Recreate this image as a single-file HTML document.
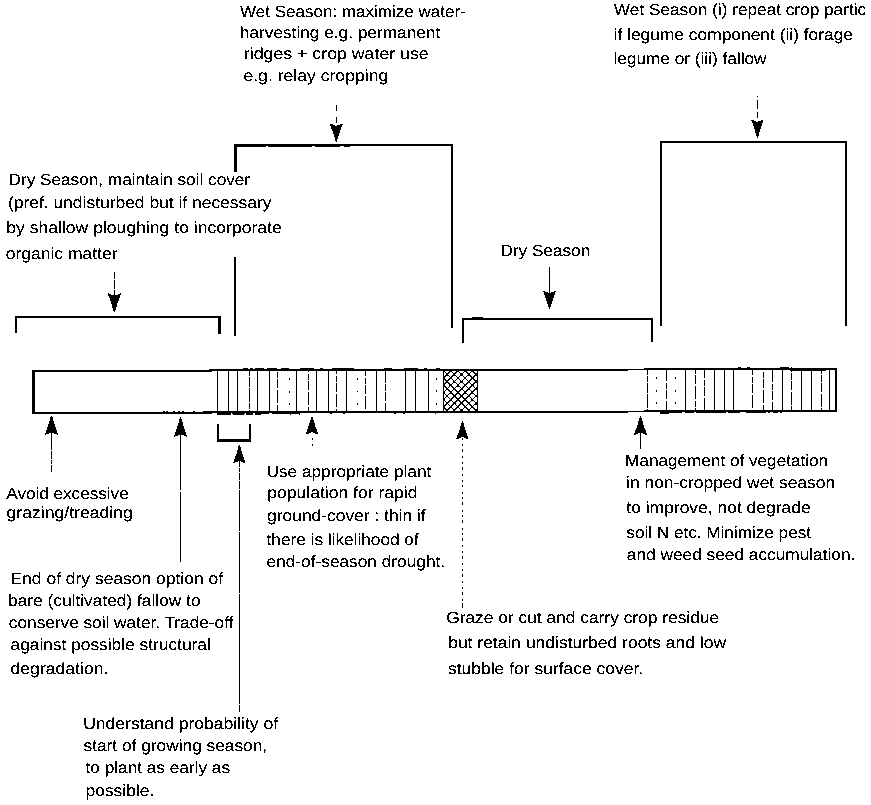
<!DOCTYPE html>
<html lang="en"><head><meta charset="utf-8"><title>Soil management calendar</title>
<style>
html,body{margin:0;padding:0;background:#fff;}
body{width:871px;height:805px;overflow:hidden;}
svg{display:block;}
text{font-family:"Liberation Sans",sans-serif;font-size:16.3px;fill:#000;text-rendering:geometricPrecision;}
.ln{stroke:#000;fill:none;stroke-linecap:butt;}
.hd{fill:#000;stroke:none;}
</style></head><body>
<svg width="871" height="805" viewBox="0 0 871 805">
<defs>
<pattern id="xh" width="5.1" height="5.1" patternUnits="userSpaceOnUse" patternTransform="translate(443.5 370) rotate(45)"><path d="M0 0.6H5.1M0.6 0V5.1" stroke="#000" stroke-width="0.95" fill="none"/></pattern>
<filter id="bw" x="0" y="0" width="871" height="805" filterUnits="userSpaceOnUse" color-interpolation-filters="sRGB"><feComponentTransfer><feFuncA type="discrete" tableValues="0 0 0 0 1 1 1 1 1 1"/></feComponentTransfer></filter>
</defs>
<rect x="0" y="0" width="871" height="805" fill="#fff"/>
<g filter="url(#bw)">
<path class="hd" d="M32.2 370.12L837.2 368.12L837.2 369.88L32.2 371.88Z"/>
<path class="hd" d="M32.2 412.12L837.2 410.12L837.2 411.88L32.2 413.88Z"/>
<path class="ln" d="M243.0 369.08L300.0 368.93" stroke-width="1.1" stroke-dasharray="5 2 3 1.5 10 2 11 3 9 20" stroke-dashoffset="0"/>
<path class="ln" d="M300.0 368.93L440.0 368.59" stroke-width="1.1" stroke-dasharray="14 6 3 9 22 30 8 12" stroke-dashoffset="0"/>
<path class="ln" d="M163.0 411.38L217.0 411.24" stroke-width="1.1" stroke-dasharray="1.5 2 1.5 5 2 3 1.5 3 1.5 9 2 8 8 30" stroke-dashoffset="0"/>
<path class="ln" d="M217.0 413.94L300.0 413.73" stroke-width="1.1" stroke-dasharray="17 1.5 12 1.5 7 2 14 3 30 12" stroke-dashoffset="3"/>
<path class="ln" d="M290.0 413.66L440.0 413.29" stroke-width="1.1" stroke-dasharray="1.5 7 1.5 30 2 11 1.5 50" stroke-dashoffset="0"/>
<path class="ln" d="M660.0 412.84L763.0 412.58" stroke-width="1.1" stroke-dasharray="22 3 9 2 30 2 12 6" stroke-dashoffset="0"/>
<path class="ln" d="M763.0 412.48L800.0 412.39" stroke-width="1.1" stroke-dasharray="3 2 2 3 5 2 2 30" stroke-dashoffset="0"/>
<path class="ln" d="M738.0 367.84L792.0 367.71" stroke-width="1.1" stroke-dasharray="3 6 3 30 9 2 11 2 30" stroke-dashoffset="0"/>
<path class="hd" d="M790.0 368.23L826.0 368.14L826.0 370.77L790.0 370.86Z"/>
<path class="ln" d="M33.4 371.0L33.4 413.5" stroke-width="2.5"/>
<path class="ln" d="M836.0 369.0L836.0 411.5" stroke-width="2.4"/>
<path class="ln" d="M217.5 370.5L217.5 412.0" stroke-width="1.0"/>
<path class="ln" d="M228.5 370.5L228.5 412.0" stroke-width="1.0"/>
<path class="ln" d="M237.5 370.5L237.5 412.0" stroke-width="1.0"/>
<path class="ln" d="M249.5 370.5L249.5 412.0" stroke-width="1.0" stroke-dasharray="13 1.5 6 1.5 9 2" stroke-dashoffset="15"/>
<path class="ln" d="M257.5 370.4L257.5 411.9" stroke-width="1.0"/>
<path class="ln" d="M269.5 370.4L269.5 411.9" stroke-width="1.0"/>
<path class="ln" d="M277.5 370.4L277.5 411.9" stroke-width="1.0" stroke-dasharray="13 1.5 6 1.5 9 2" stroke-dashoffset="13"/>
<path class="ln" d="M289.5 378.4L289.5 407.9" stroke-width="1.0" stroke-dasharray="1.6 11"/>
<path class="ln" d="M296.5 370.3L296.5 411.8" stroke-width="1.0"/>
<path class="ln" d="M308.5 370.3L308.5 411.8" stroke-width="1.0" stroke-dasharray="13 1.5 6 1.5 9 2" stroke-dashoffset="11"/>
<path class="ln" d="M316.5 370.3L316.5 411.8" stroke-width="1.0"/>
<path class="ln" d="M328.5 370.3L328.5 411.8" stroke-width="1.0"/>
<path class="ln" d="M336.5 370.2L336.5 411.7" stroke-width="1.0" stroke-dasharray="13 1.5 6 1.5 9 2" stroke-dashoffset="9"/>
<path class="ln" d="M346.5 370.2L346.5 411.7" stroke-width="1.0"/>
<path class="ln" d="M357.5 378.2L357.5 407.7" stroke-width="1.0" stroke-dasharray="1.6 11"/>
<path class="ln" d="M365.5 370.2L365.5 411.7" stroke-width="1.0" stroke-dasharray="13 1.5 6 1.5 9 2" stroke-dashoffset="7"/>
<path class="ln" d="M376.5 370.1L376.5 411.6" stroke-width="1.0"/>
<path class="ln" d="M385.5 370.1L385.5 411.6" stroke-width="1.0" stroke-dasharray="13 1.5 6 1.5 9 2" stroke-dashoffset="0"/>
<path class="ln" d="M405.5 370.1L405.5 411.6" stroke-width="1.0"/>
<path class="ln" d="M415.5 370.0L415.5 411.5" stroke-width="1.0"/>
<path class="ln" d="M428.5 370.0L428.5 411.5" stroke-width="1.0"/>
<path class="ln" d="M436.5 378.0L436.5 407.5" stroke-width="1.0" stroke-dasharray="1.6 11"/>
<path class="ln" d="M647.5 369.5L647.5 411.0" stroke-width="1.0" stroke-dasharray="13 1.5 6 1.5 9 2" stroke-dashoffset="8"/>
<path class="ln" d="M656.5 377.4L656.5 406.9" stroke-width="1.0" stroke-dasharray="1.6 11"/>
<path class="ln" d="M666.5 369.4L666.5 410.9" stroke-width="1.0" stroke-dasharray="13 1.5 6 1.5 9 2" stroke-dashoffset="1"/>
<path class="ln" d="M675.5 377.4L675.5 406.9" stroke-width="1.0" stroke-dasharray="1.6 11"/>
<path class="ln" d="M685.5 369.4L685.5 410.9" stroke-width="1.0"/>
<path class="ln" d="M695.5 369.3L695.5 410.8" stroke-width="1.0" stroke-dasharray="13 1.5 6 1.5 9 2" stroke-dashoffset="16"/>
<path class="ln" d="M704.5 369.3L704.5 410.8" stroke-width="1.0" stroke-dasharray="13 1.5 6 1.5 9 2" stroke-dashoffset="4"/>
<path class="ln" d="M714.5 369.3L714.5 410.8" stroke-width="1.0"/>
<path class="ln" d="M724.5 369.3L724.5 410.8" stroke-width="1.0"/>
<path class="ln" d="M733.5 369.3L733.5 410.8" stroke-width="1.0"/>
<path class="ln" d="M752.5 369.2L752.5 410.7" stroke-width="1.0" stroke-dasharray="13 1.5 6 1.5 9 2" stroke-dashoffset="7"/>
<path class="ln" d="M763.5 369.2L763.5 410.7" stroke-width="1.0" stroke-dasharray="13 1.5 6 1.5 9 2" stroke-dashoffset="12"/>
<path class="ln" d="M772.5 369.2L772.5 410.7" stroke-width="1.0" stroke-dasharray="13 1.5 6 1.5 9 2" stroke-dashoffset="0"/>
<path class="ln" d="M782.5 369.1L782.5 410.6" stroke-width="1.0"/>
<path class="ln" d="M791.5 369.1L791.5 410.6" stroke-width="1.0" stroke-dasharray="13 1.5 6 1.5 9 2" stroke-dashoffset="10"/>
<path class="ln" d="M801.5 369.1L801.5 410.6" stroke-width="1.0"/>
<path class="ln" d="M811.5 369.1L811.5 410.6" stroke-width="1.0"/>
<path class="ln" d="M821.5 369.0L821.5 410.5" stroke-width="1.0" stroke-dasharray="13 1.5 6 1.5 9 2" stroke-dashoffset="8"/>
<path class="ln" d="M829.5 369.0L829.5 410.5" stroke-width="1.0"/>
<rect x="443.4" y="369.9" width="34.2" height="41.5" fill="url(#xh)"/>
<path class="ln" d="M477.5 369.9L477.5 411.4" stroke-width="1.2"/>
<path class="ln" d="M443.5 370.0L443.5 411.5" stroke-width="1.0"/>
<path class="ln" d="M16 332.7V317H219.6" stroke-width="2"/>
<path class="ln" d="M219.5 316.0L219.5 333.8" stroke-width="2.4"/>
<path class="ln" d="M235.4 172V145" stroke-width="2.4"/>
<path class="ln" d="M234.2 145H453" stroke-width="2"/>
<path class="ln" d="M236 146.5H352" stroke-width="1.1" stroke-dasharray="30 2 44 3 25 4 6 3"/>
<path class="ln" d="M235.0 257.1L235.0 335.6" stroke-width="2"/>
<path class="ln" d="M452.0 144.0L452.0 328.0" stroke-width="2"/>
<path class="ln" d="M463 342.6V319H652V341.9" stroke-width="2"/>
<path class="ln" d="M472 317.6H483" stroke-width="1"/>
<path class="ln" d="M661 325.8V142H846V325.4" stroke-width="2"/>
<path class="ln" d="M218.0 424.0L218.0 441.5" stroke-width="2"/>
<path class="ln" d="M250.0 424.0L250.0 441.5" stroke-width="2"/>
<path class="ln" d="M217.0 440.5L251.0 440.5" stroke-width="2.9"/>
<path class="ln" d="M336.5 105.0L336.5 126.0" stroke-width="1.15" stroke-dasharray="5.5 6.5"/>
<path class="hd" d="M335.8 141.5Q333.8 133.4 329.7 123.5L336.3 126.1L342.9 123.5Q338.8 133.4 336.8 141.5Z"/>
<path class="ln" d="M757.5 96.0L757.5 122.0" stroke-width="1.15" stroke-dasharray="1.2 3 9 2.5 6 6"/>
<path class="hd" d="M756.9 137.5Q755.0 129.4 751.2 119.5L757.4 122.1L763.6 119.5Q759.8 129.4 757.9 137.5Z"/>
<path class="ln" d="M114.5 272.0L114.5 297.0" stroke-width="1.15" stroke-dasharray="7 1.2 9 1.2"/>
<path class="hd" d="M113.9 312.3Q111.9 303.6 107.7 292.9L114.4 295.9L121.1 292.9Q116.9 303.6 114.9 312.3Z"/>
<path class="ln" d="M549.5 267.0L549.5 294.0" stroke-width="1.15"/>
<path class="hd" d="M549.0 308.8Q547.0 300.5 543.0 290.4L549.5 293.4L556.0 290.4Q552.0 300.5 550.0 308.8Z"/>
<path class="hd" d="M51.0 416.1Q48.9 424.7 44.7 435.1L51.5 432.5L58.3 435.1Q54.1 424.7 52.0 416.1Z"/>
<path class="ln" d="M51.5 430.0L51.5 472.3" stroke-width="1.15" stroke-dasharray="20 1 8 1 4 1 9"/>
<path class="hd" d="M180.1 417.6Q178.1 426.2 174.0 436.8L180.6 434.2L187.2 436.8Q183.1 426.2 181.1 417.6Z"/>
<path class="ln" d="M180.5 432.0L180.5 562.0" stroke-width="1.15" stroke-dasharray="58 2 200"/>
<path class="hd" d="M238.9 445.3Q237.0 453.4 233.2 463.3L239.4 460.7L245.6 463.3Q241.8 453.4 239.9 445.3Z"/>
<path class="ln" d="M239.5 460.0L239.5 711.5" stroke-width="1.15" stroke-dasharray="7 1 4 1 7 1 8 1.5 40 1.2 61 1.2 110 1.2 20"/>
<path class="hd" d="M311.5 416.6Q309.6 424.7 305.8 434.6L312.0 432.0L318.2 434.6Q314.4 424.7 312.5 416.6Z"/>
<path class="ln" d="M312.5 438.0L312.5 447.0" stroke-width="1.15" stroke-dasharray="2 4.2"/>
<path class="hd" d="M461.9 421.4Q460.0 429.5 456.2 439.4L462.4 436.8L468.6 439.4Q464.8 429.5 462.9 421.4Z"/>
<path class="ln" d="M462.5 438.2L462.5 599.0" stroke-width="1.15" stroke-dasharray="1.7 4 1.7 3.3 2.6 4.6"/>
<path class="ln" d="M462.5 599.5L462.5 607.6" stroke-width="1.15" stroke-dasharray="1.5 2 5"/>
<path class="hd" d="M640.0 416.3Q638.0 424.7 634.0 435.0L640.5 432.4L647.0 435.0Q643.0 424.7 641.0 416.3Z"/>
<path class="ln" d="M640.5 432.0L640.5 449.0" stroke-width="1.15"/>
<text x="240.10" y="16.6" textLength="225.70" lengthAdjust="spacingAndGlyphs">Wet Season: maximize water-</text>
<text x="239.86" y="38.0" textLength="200.36" lengthAdjust="spacingAndGlyphs">harvesting e.g. permanent</text>
<text x="243.86" y="59.3" textLength="184.82" lengthAdjust="spacingAndGlyphs">ridges + crop water use</text>
<text x="243.42" y="81.0" textLength="144.84" lengthAdjust="spacingAndGlyphs">e.g. relay cropping</text>
<text x="613.88" y="15.3" textLength="252.26" lengthAdjust="spacingAndGlyphs">Wet Season (i) repeat crop partic</text>
<text x="613.52" y="39.5" textLength="239.50" lengthAdjust="spacingAndGlyphs">if legume component (ii) forage</text>
<text x="613.52" y="63.8" textLength="152.98" lengthAdjust="spacingAndGlyphs">legume or (iii) fallow</text>
<text x="8.52" y="185.1" textLength="241.59" lengthAdjust="spacingAndGlyphs">Dry Season, maintain soil cover</text>
<text x="7.96" y="208.3" textLength="263.50" lengthAdjust="spacingAndGlyphs">(pref. undisturbed but if necessary</text>
<text x="6.20" y="232.6" textLength="275.60" lengthAdjust="spacingAndGlyphs">by shallow ploughing to incorporate</text>
<text x="5.76" y="258.6" textLength="111.79" lengthAdjust="spacingAndGlyphs">organic matter</text>
<text x="500.40" y="255.5" textLength="89.83" lengthAdjust="spacingAndGlyphs">Dry Season</text>
<text x="6.34" y="498.8" textLength="122.34" lengthAdjust="spacingAndGlyphs">Avoid excessive</text>
<text x="6.54" y="517.8" textLength="126.29" lengthAdjust="spacingAndGlyphs">grazing/treading</text>
<text x="10.52" y="583.5" textLength="212.56" lengthAdjust="spacingAndGlyphs">End of dry season option of</text>
<text x="8.08" y="605.6" textLength="192.50" lengthAdjust="spacingAndGlyphs">bare (cultivated) fallow to</text>
<text x="8.88" y="627.8" textLength="224.52" lengthAdjust="spacingAndGlyphs">conserve soil water. Trade-off</text>
<text x="10.54" y="649.5" textLength="200.25" lengthAdjust="spacingAndGlyphs">against possible structural</text>
<text x="10.54" y="673.5" textLength="97.84" lengthAdjust="spacingAndGlyphs">degradation.</text>
<text x="83.18" y="728.5" textLength="194.90" lengthAdjust="spacingAndGlyphs">Understand probability of</text>
<text x="83.54" y="750.6" textLength="183.62" lengthAdjust="spacingAndGlyphs">start of growing season,</text>
<text x="85.54" y="772.5" textLength="144.47" lengthAdjust="spacingAndGlyphs">to plant as early as</text>
<text x="85.52" y="796.0" textLength="68.74" lengthAdjust="spacingAndGlyphs">possible.</text>
<text x="266.52" y="476.5" textLength="164.79" lengthAdjust="spacingAndGlyphs">Use appropriate plant</text>
<text x="267.30" y="497.8" textLength="150.17" lengthAdjust="spacingAndGlyphs">population for rapid</text>
<text x="267.10" y="521.3" textLength="158.54" lengthAdjust="spacingAndGlyphs">ground-cover : thin if</text>
<text x="266.54" y="545.3" textLength="152.20" lengthAdjust="spacingAndGlyphs">there is likelihood of</text>
<text x="266.54" y="566.5" textLength="178.61" lengthAdjust="spacingAndGlyphs">end-of-season drought.</text>
<text x="625.08" y="466.3" textLength="203.07" lengthAdjust="spacingAndGlyphs">Management of vegetation</text>
<text x="626.08" y="488.3" textLength="209.06" lengthAdjust="spacingAndGlyphs">in non-cropped wet season</text>
<text x="626.32" y="513.3" textLength="184.38" lengthAdjust="spacingAndGlyphs">to improve, not degrade</text>
<text x="626.32" y="538.3" textLength="184.68" lengthAdjust="spacingAndGlyphs">soil N etc. Minimize pest</text>
<text x="626.88" y="559.8" textLength="228.50" lengthAdjust="spacingAndGlyphs">and weed seed accumulation.</text>
<text x="446.20" y="623.3" textLength="272.94" lengthAdjust="spacingAndGlyphs">Graze or cut and carry crop residue</text>
<text x="448.18" y="647.5" textLength="277.89" lengthAdjust="spacingAndGlyphs">but retain undisturbed roots and low</text>
<text x="447.98" y="673.6" textLength="195.19" lengthAdjust="spacingAndGlyphs">stubble for surface cover.</text>
</g>
</svg></body></html>
